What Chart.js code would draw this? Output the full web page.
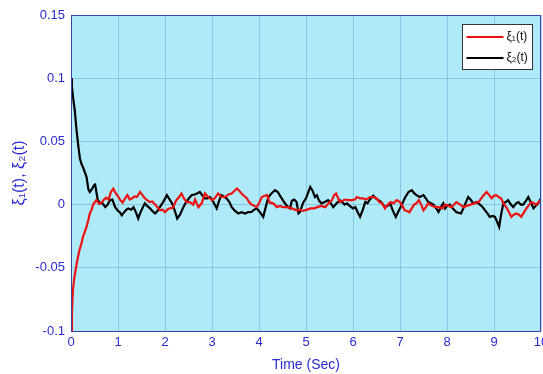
<!DOCTYPE html>
<html lang="en">

<head>
    <meta charset="UTF-8">
    <script src="https://cdn.jsdelivr.net/npm/chart.js"></script>
    <title>xi(t)</title>
    <style>
        body { margin: 0; background: #fff; }
        .box { width: 543px; height: 374px; }
    </style>
</head>

<body>
    <div class="box">
        <canvas id="grafico"></canvas>
    </div>
</body>

</html>

<script>
    // xi_1(t) - red
    let tempoVermelho = [0, 0.02, 0.04, 0.07, 0.11, 0.14, 0.18, 0.22, 0.255, 0.29, 0.33, 0.37, 0.4, 0.44, 0.47, 0.54, 0.6, 0.64, 0.7, 0.75, 0.8, 0.85, 0.9, 0.95, 1.0, 1.05, 1.1, 1.15, 1.2, 1.25, 1.3, 1.35, 1.4, 1.47, 1.52, 1.57, 1.62, 1.68, 1.73, 1.79, 1.84, 1.89, 1.95, 2.0, 2.05, 2.1, 2.17, 2.24, 2.3, 2.35, 2.4, 2.46, 2.53, 2.6, 2.64, 2.71, 2.78, 2.85, 2.92, 3.0, 3.06, 3.13, 3.2, 3.28, 3.35, 3.42, 3.48, 3.53, 3.58, 3.63, 3.68, 3.74, 3.79, 3.84, 3.9, 3.95, 4.0, 4.06, 4.12, 4.17, 4.23, 4.3, 4.38, 4.45, 4.5, 4.6, 4.7, 4.8, 4.87, 4.94, 5.02, 5.1, 5.17, 5.24, 5.32, 5.41, 5.48, 5.55, 5.6, 5.64, 5.72, 5.78, 5.83, 5.9, 5.97, 6.04, 6.08, 6.15, 6.21, 6.28, 6.36, 6.43, 6.5, 6.56, 6.62, 6.68, 6.74, 6.8, 6.86, 6.93, 7.0, 7.05, 7.1, 7.15, 7.2, 7.25, 7.3, 7.35, 7.4, 7.45, 7.5, 7.55, 7.6, 7.68, 7.75, 7.82, 7.9, 7.96, 8.03, 8.1, 8.15, 8.2, 8.28, 8.35, 8.42, 8.5, 8.58, 8.67, 8.75, 8.84, 8.9, 8.95, 9.0, 9.05, 9.1, 9.15, 9.2, 9.26, 9.32, 9.37, 9.42, 9.48, 9.53, 9.58, 9.64, 9.69, 9.75, 9.8, 9.85, 9.9, 9.95, 10]
    let xi1 = [-0.1, -0.085, -0.068, -0.058, -0.049, -0.043, -0.036, -0.031, -0.0255, -0.022, -0.0176, -0.012, -0.007, -0.004, 0, 0.0035, 0.0005, 0.001, 0.004, 0.0055, 0.004, 0.01, 0.0127, 0.009, 0.0065, 0.0035, 0.0015, 0.005, 0.0075, 0.004, 0.005, 0.0065, 0.006, 0.01, 0.0075, 0.005, 0.0035, 0.002, 0.0025, 0, -0.002, -0.0045, -0.004, -0.006, -0.004, -0.003, -0.0025, 0.0035, 0.006, 0.0088, 0.005, 0.002, 0.002, 0, 0.004, -0.002, 0.001, 0.0088, 0.006, 0.0035, 0.005, 0.0088, 0.006, 0.006, 0.008, 0.0088, 0.011, 0.0127, 0.011, 0.0088, 0.007, 0.005, 0.002, 0, -0.001, -0.002, 0.001, 0.006, 0.007, 0.0075, 0.0015, 0.001, -0.002, -0.001, -0.002, -0.002, -0.003, -0.0045, -0.004, -0.005, -0.004, -0.003, -0.003, -0.002, -0.001, -0.002, 0.001, 0.0035, 0.0075, 0.0088, 0.002, 0.003, 0.004, 0.0035, 0.0035, 0.004, 0.006, 0.005, 0.005, 0.004, 0.006, 0.006, 0.005, 0.002, 0.001, -0.003, 0, 0.002, 0.001, 0.0035, 0.002, -0.001, -0.0045, -0.005, -0.006, -0.003, 0, 0.001, 0.0035, 0, -0.0045, -0.002, 0.001, -0.001, -0.002, -0.002, -0.003, 0, -0.001, -0.002, 0, 0.002, 0, -0.002, -0.001, 0, 0.001, 0.002, 0.006, 0.01, 0.0075, 0.005, 0.007, 0.0075, 0.006, 0.005, 0.001, -0.002, -0.006, -0.0097, -0.008, -0.007, -0.008, -0.0097, -0.006, -0.003, 0, 0.002, 0.001, 0, 0.002, 0.0035]

    // xi_2(t) - black
    let tempoPreto = [0, 0.02, 0.04, 0.06, 0.08, 0.11, 0.15, 0.19, 0.22, 0.26, 0.3, 0.33, 0.37, 0.4, 0.44, 0.49, 0.51, 0.54, 0.57, 0.62, 0.67, 0.73, 0.78, 0.83, 0.88, 0.94, 1.0, 1.04, 1.08, 1.13, 1.18, 1.22, 1.28, 1.33, 1.38, 1.43, 1.48, 1.53, 1.57, 1.62, 1.68, 1.73, 1.79, 1.84, 1.89, 1.96, 2.04, 2.1, 2.15, 2.2, 2.26, 2.32, 2.39, 2.45, 2.51, 2.57, 2.63, 2.68, 2.74, 2.8, 2.85, 2.9, 2.96, 3.03, 3.1, 3.15, 3.2, 3.26, 3.31, 3.37, 3.42, 3.49, 3.56, 3.63, 3.7, 3.77, 3.84, 3.9, 3.95, 4.02, 4.09, 4.15, 4.2, 4.27, 4.34, 4.4, 4.44, 4.5, 4.55, 4.62, 4.66, 4.7, 4.75, 4.8, 4.84, 4.87, 4.94, 5.0, 5.09, 5.14, 5.19, 5.23, 5.28, 5.33, 5.4, 5.47, 5.53, 5.58, 5.65, 5.72, 5.77, 5.82, 5.87, 5.93, 6.0, 6.05, 6.1, 6.15, 6.21, 6.26, 6.31, 6.36, 6.43, 6.48, 6.54, 6.6, 6.68, 6.74, 6.79, 6.85, 6.91, 6.97, 7.04, 7.1, 7.18, 7.25, 7.3, 7.35, 7.42, 7.5, 7.55, 7.6, 7.66, 7.71, 7.77, 7.82, 7.87, 7.92, 7.96, 8.0, 8.06, 8.12, 8.2, 8.3, 8.37, 8.45, 8.5, 8.56, 8.63, 8.7, 8.76, 8.81, 8.86, 8.91, 8.97, 9.02, 9.06, 9.11, 9.15, 9.2, 9.25, 9.3, 9.36, 9.41, 9.47, 9.52, 9.57, 9.62, 9.68, 9.73, 9.78, 9.84, 9.89, 9.94, 10]
    let xi2 = [0.1, 0.093, 0.086, 0.08, 0.0747, 0.062, 0.048, 0.0365, 0.0325, 0.029, 0.025, 0.022, 0.012, 0.01, 0.012, 0.0153, 0.0167, 0.01, 0.0035, 0.0015, 0.001, -0.002, 0, 0.0035, 0.004, -0.002, -0.005, -0.006, -0.0085, -0.006, -0.004, -0.003, -0.004, -0.002, -0.006, -0.011, -0.006, -0.002, 0.001, -0.001, -0.003, -0.005, -0.007, -0.005, -0.002, 0.002, 0.0075, 0.004, 0.001, -0.004, -0.011, -0.008, -0.002, 0.002, 0.005, 0.0075, 0.008, 0.0088, 0.01, 0.007, 0.005, 0.005, 0.006, 0.002, -0.003, 0.003, 0.0075, 0.006, 0.005, 0.002, -0.002, -0.005, -0.007, -0.006, -0.007, -0.006, -0.0058, -0.004, -0.003, -0.006, -0.0097, -0.001, 0.006, 0.009, 0.0114, 0.01, 0.0075, 0.004, 0.001, -0.002, -0.003, 0.003, 0.004, 0.002, -0.007, -0.006, 0.0015, 0.005, 0.014, 0.011, 0.006, 0.0075, 0.003, 0.001, 0.002, 0.0035, 0.001, -0.002, 0.001, 0.0035, 0.002, 0, 0.001, -0.001, -0.003, -0.002, -0.006, -0.0097, -0.004, 0.002, 0.001, 0.004, 0.007, 0.005, 0.0035, 0.002, -0.002, -0.001, 0.001, -0.005, -0.0097, -0.005, 0, 0.005, 0.01, 0.0114, 0.009, 0.0075, 0.006, 0.0075, 0.005, 0.002, 0.001, 0, -0.003, -0.0058, -0.002, 0.001, -0.003, -0.001, 0, -0.003, -0.006, -0.007, -0.001, 0.006, 0.004, 0.001, 0.002, 0, -0.002, -0.0045, -0.007, -0.0097, -0.009, -0.0097, -0.013, -0.0176, -0.008, 0.001, 0.002, 0.0035, 0, -0.002, 0.001, 0.002, 0, 0, 0.003, 0.006, 0.002, -0.003, -0.001, 0.001, 0.005]

    let rotulosSerie = ['ξ₁(t)', 'ξ₂(t)']
    let coresSerie = ['#ee1111', '#000000']

    const azul = '#2a2ad0'
    const fonte = 'Liberation Sans, Arial, sans-serif'

    function pares(t, v) {
        let out = []
        for (var i = 0; i < t.length; i++) {
            out.push({ x: t[i], y: v[i] })
        }
        return out
    }

    // fundo azul e moldura da area do grafico
    const moldura = {
        id: 'moldura',
        beforeDraw(chart) {
            const c = chart.ctx
            const a = chart.chartArea
            c.save()
            c.fillStyle = '#ffffff'
            c.fillRect(0, 0, chart.width, chart.height)
            c.fillStyle = '#aeeaf8'
            c.fillRect(a.left, a.top, a.right - a.left, a.bottom - a.top)
            c.restore()
        },
        afterDraw(chart) {
            const c = chart.ctx
            const a = chart.chartArea
            c.save()
            c.strokeStyle = '#3444a8'
            c.lineWidth = 1
            c.strokeRect(a.left + 0.5, a.top + 0.5, a.right - a.left - 1, a.bottom - a.top)

            // legenda dentro do grafico
            const bx = 462.5, by = 24.5, bw = 70, bh = 45
            c.fillStyle = '#ffffff'
            c.fillRect(bx, by, bw, bh)
            c.strokeStyle = '#333333'
            c.strokeRect(bx, by, bw, bh)
            const linhas = [37, 58]
            chart.data.datasets.forEach((ds, i) => {
                c.strokeStyle = ds.borderColor
                c.lineWidth = 2
                c.beginPath()
                c.moveTo(bx + 4, linhas[i])
                c.lineTo(bx + 41, linhas[i])
                c.stroke()
                c.fillStyle = '#111'
                c.font = '12px ' + fonte
                c.textBaseline = 'middle'
                c.fillText(ds.label, bx + 44, linhas[i])
            })
            c.restore()
        }
    }

    function plotarGrafico() {
        const ctx = document.getElementById('grafico')
        new Chart(ctx, {
            type: 'line',
            data: {
                datasets: [{
                    label: rotulosSerie[0],
                    data: pares(tempoVermelho, xi1),
                    borderColor: coresSerie[0],
                    borderWidth: 2.2,
                    pointRadius: 0,
                    tension: 0
                }, {
                    label: rotulosSerie[1],
                    data: pares(tempoPreto, xi2),
                    borderColor: coresSerie[1],
                    borderWidth: 2.2,
                    pointRadius: 0,
                    tension: 0
                }]
            },
            options: {
                responsive: true,
                maintainAspectRatio: false,
                animation: false,
                layout: {
                    padding: { top: 15, right: 2, left: 0, bottom: 0 }
                },
                plugins: {
                    legend: { display: false },
                    tooltip: { enabled: false }
                },
                scales: {
                    x: {
                        type: 'linear',
                        min: 0,
                        max: 10,
                        ticks: {
                            stepSize: 1,
                            color: azul,
                            font: { family: fonte, size: 13 },
                            padding: 4,
                            maxRotation: 0
                        },
                        grid: { color: 'rgba(90,150,190,0.4)', drawTicks: false },
                        border: { display: false },
                        title: {
                            display: true,
                            text: 'Time (Sec)',
                            color: azul,
                            font: { family: fonte, size: 14 },
                            padding: { top: 2, bottom: 0 }
                        },
                        afterFit(scale) {
                            scale.height = 43
                            scale.paddingLeft = 0
                            scale.paddingRight = 0
                        }
                    },
                    y: {
                        min: -0.1,
                        max: 0.15,
                        ticks: {
                            stepSize: 0.05,
                            color: azul,
                            font: { family: fonte, size: 13 },
                            padding: 6,
                            callback: v => String(+v.toFixed(2))
                        },
                        grid: { color: 'rgba(90,150,190,0.4)', drawTicks: false },
                        border: { display: false },
                        title: {
                            display: true,
                            text: 'ξ₁(t), ξ₂(t)',
                            color: azul,
                            font: { family: fonte, size: 16 },
                            padding: { top: 10, bottom: 0 }
                        },
                        afterFit(scale) {
                            scale.width = 71
                        }
                    }
                }
            },
            plugins: [moldura]
        })
    }

    plotarGrafico()
</script>
